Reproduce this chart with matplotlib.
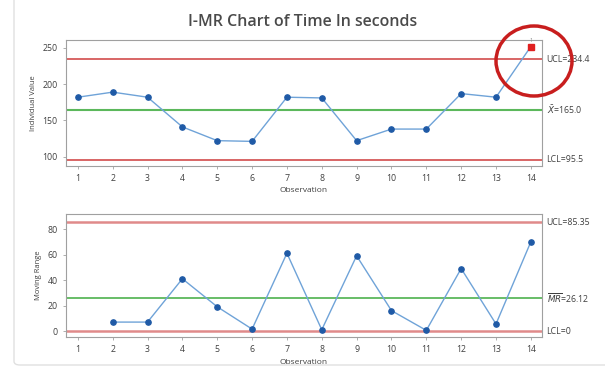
import matplotlib.pyplot as plt
import numpy as np
from matplotlib.patches import Ellipse, FancyBboxPatch

# data
obs = np.arange(1, 15)
indiv = [182, 189, 182, 141, 122, 121, 182, 181, 122, 138, 138, 187, 182, 252]
mr = [np.nan, 7, 7, 41, 19, 1.5, 61, 1, 59, 16, 0.5, 49, 5.5, 70]
i_limits = {"UCL": 234.4, "mean": 165.0, "LCL": 95.5}
mr_limits = {"UCL": 85.35, "mean": 26.12, "LCL": 0}
i_labels = ["UCL=234.4", "$\\bar{X}$=165.0", "LCL=95.5"]
mr_labels = ["UCL=85.35", "$\\overline{MR}$=26.12", "LCL=0"]

plt.rcParams['font.family'] = ['Open Sans', 'DejaVu Sans']
txt = "#404040"
fig = plt.figure(figsize=(6.05, 3.69), dpi=100)
W, H = 605, 369

# faint screenshot border
fig.patches.append(FancyBboxPatch((14 / W, 4 / H), 600 / W, 370 / H, boxstyle="round,pad=0,rounding_size=0.01",
                                  transform=fig.transFigure, fill=False, ec="#e0e0e0", lw=1))


def ax_at(l, t, r, b):
    return fig.add_axes([l / W, 1 - b / H, (r - l) / W, (b - t) / H])


def style(ax):
    for s in ax.spines.values():
        s.set_color("#a0a0a0")
    ax.tick_params(labelsize=6.3, colors="#a0a0a0", labelcolor=txt, length=2.5, width=0.6)
    ax.set_xticks(obs)
    ax.set_xlim(0.66, 14.32)
    ax.set_xlabel("Observation", fontsize=6, color=txt, labelpad=3)


# top: individuals
ax1 = ax_at(66, 40, 542, 166)
ax1.axhline(i_limits["UCL"], color="#d24b4b", lw=1.2)
ax1.axhline(i_limits["LCL"], color="#d24b4b", lw=1.2)
ax1.axhline(i_limits["mean"], color="#5cb85c", lw=1.5)
ax1.plot(obs, indiv, color="#6fa3d8", lw=1, zorder=3)
ax1.plot(obs[:-1], indiv[:-1], "o", color="#1f5aa6", ms=3.8, zorder=4)
ax1.plot(obs[-1:], indiv[-1:], "s", color="#e02020", ms=3.8, zorder=4)
ax1.text(obs[-1], indiv[-1] + 6, "1", fontsize=4, color="#909090", ha="center")
ax1.set_ylim(87, 261)
ax1.set_yticks([100, 150, 200, 250])
ax1.set_ylabel("Individual Value", fontsize=5.5, color=txt)
style(ax1)
for v, lab in zip(i_limits.values(), i_labels):
    ax1.text(14.45, v, lab, fontsize=6.3, color=txt, va="center", ha="left")

# bottom: moving range
ax2 = ax_at(66, 214, 542, 337)
ax2.axhline(mr_limits["UCL"], color="#e08a8a", lw=1.8)
ax2.axhline(mr_limits["LCL"], color="#e08a8a", lw=1.8)
ax2.axhline(mr_limits["mean"], color="#5cb85c", lw=1.3)
ax2.plot(obs, mr, color="#6fa3d8", lw=1, zorder=3)
ax2.plot(obs, mr, "o", color="#1f5aa6", ms=3.8, zorder=4)
ax2.set_ylim(-4.7, 91.8)
ax2.set_yticks([0, 20, 40, 60, 80])
ax2.set_ylabel("Moving Range", fontsize=5.5, color=txt)
style(ax2)
for v, lab in zip(mr_limits.values(), mr_labels):
    ax2.text(14.45, v, lab, fontsize=6.3, color=txt, va="center", ha="left")

fig.text(0.5, 1 - 22 / H, "I-MR Chart of Time In seconds", fontsize=11.5, fontweight="semibold",
         color="#4a4a4a", ha="center", va="center")

# red hand-drawn circle around the out-of-control point
fig.patches.append(Ellipse((534 / W, 1 - 61 / H), 76 / W, 70 / H, transform=fig.transFigure,
                           fill=False, ec="#c81e1e", lw=2.5))

fig.savefig("out.png", dpi=100)
